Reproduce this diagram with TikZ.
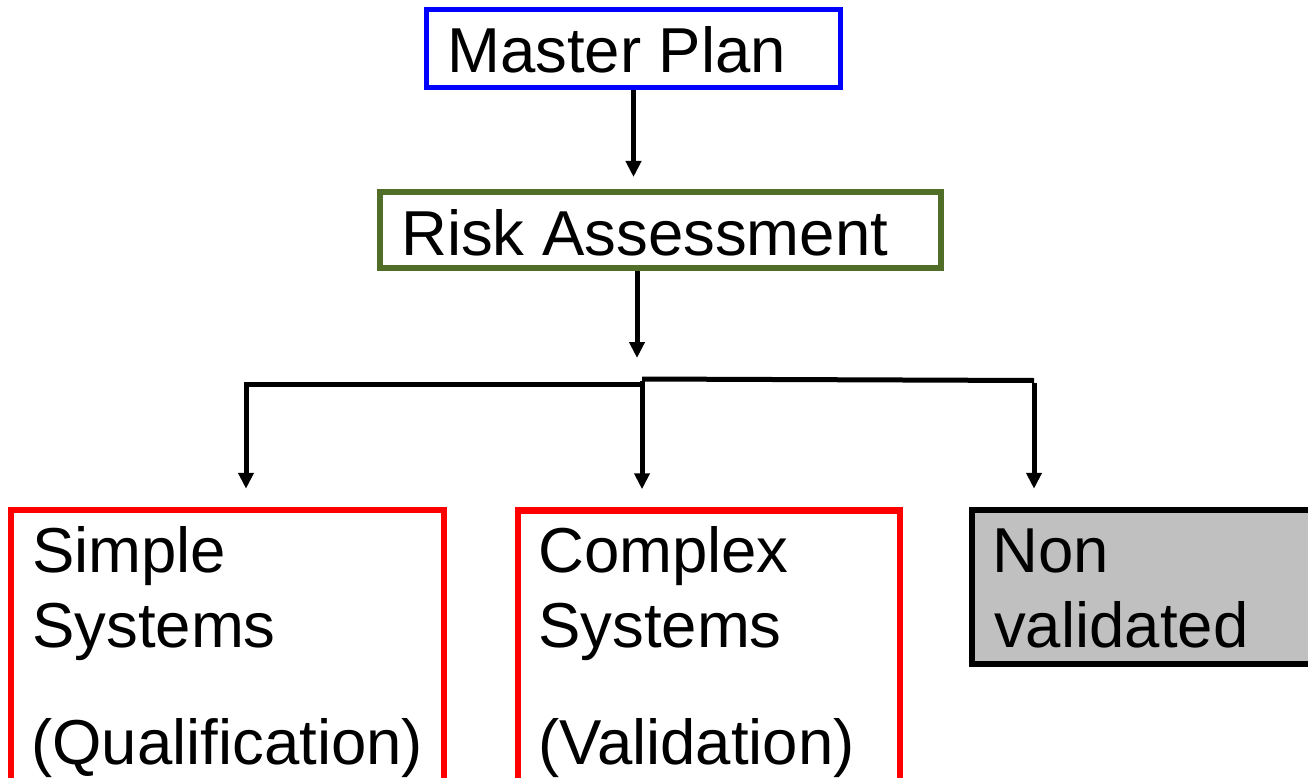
\documentclass[tikz,border=0pt]{standalone}
\usepackage{fontspec}
\setmainfont{Liberation Sans}
\usetikzlibrary{arrows.meta}
\definecolor{bxblue}{RGB}{0,0,255}
\definecolor{bxgreen}{RGB}{80,110,40}
\definecolor{bxred}{RGB}{255,0,0}
\definecolor{bxgray}{RGB}{192,192,192}
\begin{document}
\begin{tikzpicture}[x=1pt,y=-1pt,
  boxbase/.style={draw,rectangle,inner sep=0pt},
  bluebox/.style={boxbase,draw=bxblue,line width=5pt},
  greenbox/.style={boxbase,draw=bxgreen,line width=6pt},
  redbox/.style={boxbase,draw=bxred,line width=6.5pt},
  graybox/.style={boxbase,draw=black,fill=bxgray,line width=6.5pt},
  txt/.style={inner sep=0pt,anchor=base west,font=\fontsize{63.5}{74}\selectfont},
  conn/.style={line width=5pt},
  arr/.style={conn,-{Triangle[length=16pt,width=15pt]}}]
\useasboundingbox (0,0) rectangle (1308,778);
% boxes (line-centre geometry)
\node[bluebox,minimum width=414pt,minimum height=78pt] (mp) at (633.5,48.5) {};
\node[greenbox,minimum width=561pt,minimum height=76pt] (ra) at (660.5,230) {};
\node[redbox,minimum width=433pt,minimum height=300pt] (sb) at (227.5,660) {};
\node[redbox,minimum width=382pt,minimum height=300pt] (cb) at (709,660.5) {};
\node[graybox,minimum width=360pt,minimum height=154pt] (nb) at (1152,587) {};
% texts
\node[txt] (mpt) at (447,73) {Master Plan};
\node[txt] (rat) at (401,255) {Risk Assessment};
\node[txt] (sb1) at (32,572) {Simple};
\node[txt] (sb2) at (32,647) {Systems};
\node[txt] (sb3) at (31,764) {(Qualification)};
\node[txt] (cb1) at (538,572) {Complex};
\node[txt] (cb2) at (538,647) {Systems};
\node[txt] (cb3) at (538,764) {(Validation)};
\node[txt] (nb1) at (992,572) {Non};
\node[txt] (nb2) at (994,647) {validated};
% connectors
\coordinate (a2) at (637,358);
\coordinate (jl) at (246,384);
\coordinate (jm) at (642,380.5);
\coordinate (jr) at (1034,380.5);
\draw[arr,shorten >=12pt] (mp.south) -- (mp.south |- ra.north);
\draw[arr] (ra.south -| a2) -- (a2);
\draw[conn] ([xshift=-2pt]jl) -- (jm |- jl);
\draw[conn] ([yshift=1.5pt]jm) -- (jr);
\draw[arr,shorten >=18pt] ([yshift=-2pt]jl) -- (jl |- sb.north);
\draw[arr,shorten >=18pt] (jm) -- (jm |- cb.north);
\draw[arr,shorten >=18pt] ([yshift=-2pt]jr) -- (jr |- nb.north);
\end{tikzpicture}
\end{document}
